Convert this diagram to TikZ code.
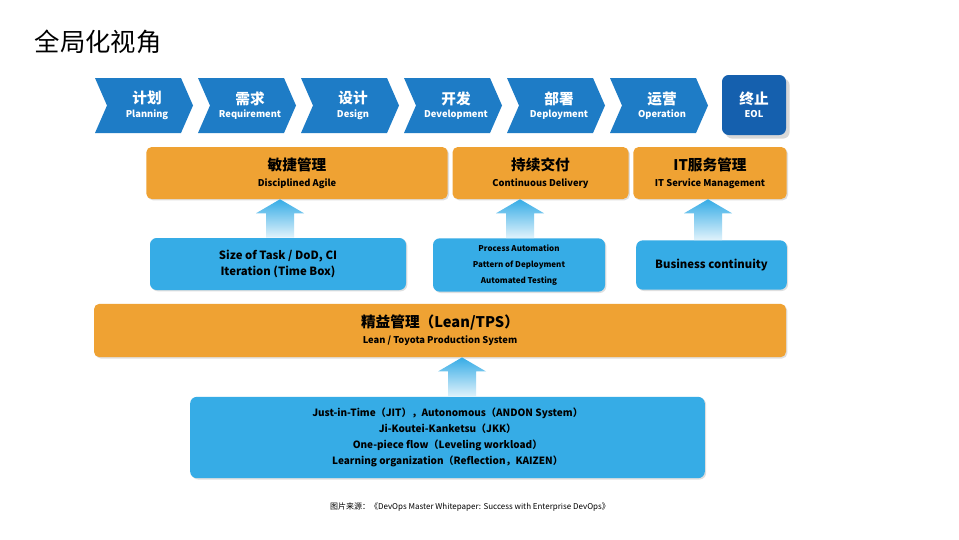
\documentclass[tikz,border=0pt]{standalone}
\usepackage{fontspec}
\setmainfont{Noto Sans CJK SC}
\usetikzlibrary{shadows,calc}
\definecolor{chev}{HTML}{1E7CC6}
\definecolor{eol}{HTML}{1560AE}
\definecolor{org}{HTML}{EFA233}
\definecolor{lb}{HTML}{36ACE6}
\begin{document}
\begin{tikzpicture}[x=0.75pt,y=-0.75pt,
  chevt/.style={text=white,font=\bfseries\fontsize{11}{12}\selectfont,align=center},
  obox/.style={draw=none,fill=org,rounded corners=4pt,drop shadow={opacity=0.25,shadow xshift=1pt,shadow yshift=-1pt}},
  bbox/.style={draw=none,fill=lb,rounded corners=5pt,drop shadow={opacity=0.25,shadow xshift=1pt,shadow yshift=-1pt}},
  lbl/.style={align=center,font=\bfseries\fontsize{8}{12}\selectfont}]
\useasboundingbox (0,0) rectangle (959,539);
\fill[white] (0,0) rectangle (959,539);
\node[anchor=west,font=\fontsize{19}{20}\selectfont] (title) at (30,42) {全局化视角};
% chevrons
\foreach \i/\a/\b in {0/计划/Planning,1/需求/Requirement,2/设计/Design,3/开发/Development,4/部署/Deployment,5/运营/Operation}{
  \pgfmathsetmacro{\x}{95+103*\i}
  \fill[chev] (\x,78) -- ({\x+86},78) -- ({\x+98},105.5) -- ({\x+86},133) -- (\x,133) -- ({\x+12},105.5) -- cycle;
  \node[chevt] (c\i) at ({\x+52},105.5) {\fontsize{11}{13}\selectfont\a\\[-2pt]\fontsize{7}{8}\selectfont\b};
}
\node[fill=eol,rounded corners=5pt,minimum width=48pt,minimum height=45pt,chevt,drop shadow={opacity=0.3}] (eolb) at (754,105) {\fontsize{11}{13}\selectfont 终止\\[-2pt]\fontsize{7}{8}\selectfont EOL};
% orange row
\node[obox,minimum width=226pt,minimum height=39pt,lbl] (o1) at (297,173) {\fontsize{11}{13}\selectfont 敏捷管理\\\fontsize{7}{8}\selectfont Disciplined Agile};
\node[obox,minimum width=132pt,minimum height=39pt,lbl] (o2) at (540.5,173) {\fontsize{11}{13}\selectfont 持续交付\\\fontsize{7}{8}\selectfont Continuous Delivery};
\node[obox,minimum width=115pt,minimum height=39pt,lbl] (o3) at (710,173) {\fontsize{11}{13}\selectfont IT服务管理\\\fontsize{7}{8}\selectfont IT Service Management};
% blue row
\node[bbox,minimum width=192pt,minimum height=39pt,lbl] (b1) at (278,264) {\fontsize{8.5}{17}\selectfont Size of Task / DoD, CI\\\fontsize{8.5}{10}\selectfont Iteration (Time Box)};
\node[bbox,minimum width=129pt,minimum height=40pt,lbl] (b2) at (519,265) {\fontsize{6}{13}\selectfont Process Automation\\\fontsize{6}{10}\selectfont Pattern of Deployment\\\fontsize{6}{10}\selectfont Automated Testing};
\node[bbox,minimum width=113pt,minimum height=37pt,lbl] (b3) at (711.5,265) {\fontsize{8.5}{10}\selectfont Business continuity};
% lean
\node[obox,minimum width=519pt,minimum height=40pt,lbl] (lean) at (440,330.5) {\fontsize{11}{14}\selectfont 精益管理（Lean/TPS）\\\fontsize{7}{8}\selectfont Lean / Toyota Production System};
\node[bbox,minimum width=386pt,minimum height=61pt,lbl] (base) at (447.5,437.5) {\fontsize{7.5}{11}\selectfont Just-in-Time（JIT），Autonomous（ANDON System）\\\fontsize{7.5}{11}\selectfont Ji-Koutei-Kanketsu（JKK）\\\fontsize{7.5}{11}\selectfont One-piece flow（Leveling workload）\\\fontsize{7.5}{11}\selectfont Learning organization（Reflection，KAIZEN）};
% arrows
\foreach \n/\m/\xx in {b1/o1/280,b2/o2/520,b3/o3/708,base/lean/462}{
  \path (\xx,0) coordinate (tmp);
  \shade[top color=lb,bottom color=white!85!lb]
    ($(\n.north-|tmp)+(-14,0)$) -- ($(\m.south-|tmp)+(-14,14)$) -- ($(\m.south-|tmp)+(-24,14)$) -- (\m.south-|tmp) -- ($(\m.south-|tmp)+(24,14)$) -- ($(\m.south-|tmp)+(14,14)$) -- ($(\n.north-|tmp)+(14,0)$) -- cycle;
}
\node[font=\fontsize{6}{7}\selectfont] (cap) at (470,507) {图片来源：《DevOps Master Whitepaper: Success with Enterprise DevOps》};
\end{tikzpicture}
\end{document}
